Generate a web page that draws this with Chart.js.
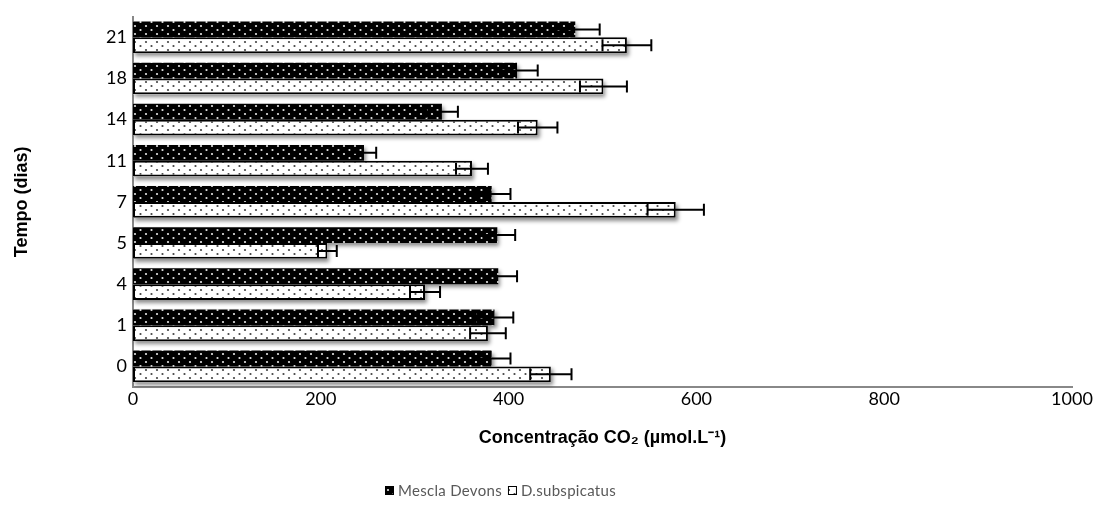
<!DOCTYPE html>
<html><head><meta charset="utf-8">
<script src="https://cdn.jsdelivr.net/npm/chart.js@4/dist/chart.umd.min.js"></script>
<style>html,body{margin:0;padding:0;background:#fff;} #wrap{width:1102px;height:526px;position:relative;}</style>
</head><body><div id="wrap"><canvas id="c" width="1102" height="526"></canvas></div>
<script>
const categories = ['0','1','4','5','7','11','14','18','21'];
const seriesNames = ['Mescla Devons','D.subspicatus'];
const mesclaValues = [382,385,389,388,382,246,329,409,471];
const mesclaErrors = [20,20,20,19,20,13,17,22,26];
const subspicatusValues = [445,378,311,207,578,361,431,501,526];
const subspicatusErrors = [22,19,16,10,30,17,21,25,26];
const xTickValues = [0,200,400,600,800,1000];
const xTitle = 'Concentração CO₂ (µmol.L⁻¹)';
const yTitle = 'Tempo (dias)';

function makePattern(bg, dot) {
  const t = document.createElement('canvas'); t.width = 11; t.height = 8;
  const g = t.getContext('2d');
  g.fillStyle = bg; g.fillRect(0,0,11,8);
  g.fillStyle = dot;
  g.beginPath(); g.arc(3,2,1.1,0,Math.PI*2); g.fill();
  g.beginPath(); g.arc(8.5,6,1.1,0,Math.PI*2); g.fill();
  return g.createPattern(t,'repeat');
}
const blackPattern = makePattern('#000','#e6e6e6');
const whitePattern = makePattern('#fff','#444');
const errorSets = [mesclaErrors, subspicatusErrors];

const shadowPlugin = {
  id:'shadows',
  beforeDatasetsDraw(chart){
    const ctx = chart.ctx;
    ctx.save();
    ctx.shadowColor='rgba(0,0,0,0.45)'; ctx.shadowBlur=4; ctx.shadowOffsetX=2; ctx.shadowOffsetY=3;
    ctx.fillStyle='#fff';
    chart.data.datasets.forEach((ds,di)=>{
      chart.getDatasetMeta(di).data.forEach(bar=>{
        const p = bar.getProps(['x','y','base','height'], true);
        ctx.fillRect(Math.min(p.base,p.x), p.y-p.height/2, Math.abs(p.x-p.base), p.height);
      });
    });
    ctx.restore();
  }
};
const errorBarPlugin = {
  id:'errorBars',
  afterDatasetsDraw(chart){
    const ctx = chart.ctx, xs = chart.scales.x;
    chart.data.datasets.forEach((ds,di)=>{
      chart.getDatasetMeta(di).data.forEach((bar,i)=>{
        const v = ds.data[i], e = errorSets[di][i];
        const x1 = xs.getPixelForValue(v-e), x2 = xs.getPixelForValue(v+e), y = bar.y;
        ctx.save(); ctx.strokeStyle='#000'; ctx.lineWidth=2;
        ctx.beginPath();
        ctx.moveTo(x1,y); ctx.lineTo(x2,y);
        ctx.moveTo(x1,y-6); ctx.lineTo(x1,y+6);
        ctx.moveTo(x2,y-6); ctx.lineTo(x2,y+6);
        ctx.stroke(); ctx.restore();
      });
    });
  }
};
const legendPlugin = {
  id:'customLegend',
  afterDraw(chart){
    const ctx = chart.ctx;
    ctx.save();
    ctx.font = '15px Lato';
    ctx.letterSpacing = '0.3px';
    ctx.textBaseline = 'middle';
    const y = 491;
    let x = 385;
    const fills = [blackPattern, whitePattern];
    seriesNames.forEach((name,i)=>{
      ctx.fillStyle = fills[i];
      ctx.fillRect(x, y-5, 9, 9);
      ctx.strokeStyle = '#000'; ctx.lineWidth = 1;
      ctx.strokeRect(x+0.5, y-4.5, 8, 8);
      ctx.fillStyle = '#595959';
      ctx.fillText(name, x+13, y);
      x += 13 + ctx.measureText(name).width + 6;
    });
    ctx.restore();
  }
};

new Chart(document.getElementById('c'), {
  type:'bar',
  data:{
    labels: categories,
    datasets:[
      {label: seriesNames[0], data: mesclaValues, backgroundColor: blackPattern, borderWidth: 0},
      {label: seriesNames[1], data: subspicatusValues, backgroundColor: whitePattern, borderColor:'#000', borderWidth: 2, borderSkipped: false}
    ]
  },
  options:{
    responsive:false, animation:false,
    indexAxis:'y',
    layout:{padding:{top:12,right:30,bottom:60,left:0}},
    datasets:{bar:{categoryPercentage:0.77, barPercentage:1}},
    plugins:{legend:{display:false}, tooltip:{enabled:false}},
    scales:{
      x:{
        min:0,max:1000,
        afterBuildTicks(s){ s.ticks = xTickValues.map(v=>({value:v})); },
        grid:{display:false, drawTicks:false},
        border:{display:true,color:'#888',width:2},
        ticks:{color:'#000',font:{family:'Lato',size:18},padding:1,callback:(v)=>String(v)},
        title:{display:true,text:xTitle,color:'#000',font:{family:'Liberation Sans',size:18,weight:'bold'},padding:{top:0,bottom:17}},
        afterFit(s){ s.height = 79; }
      },
      y:{
        reverse:true,
        grid:{display:false, drawTicks:false},
        border:{display:true,color:'#888',width:2},
        ticks:{color:'#000',font:{family:'Lato',size:18},padding:6},
        title:{display:true,text:yTitle,color:'#000',font:{family:'Liberation Sans',size:18,weight:'bold'},padding:{top:11,bottom:0}},
        afterFit(s){ s.width = 133; }
      }
    }
  },
  plugins:[shadowPlugin, errorBarPlugin, legendPlugin]
});
</script>
</body></html>
